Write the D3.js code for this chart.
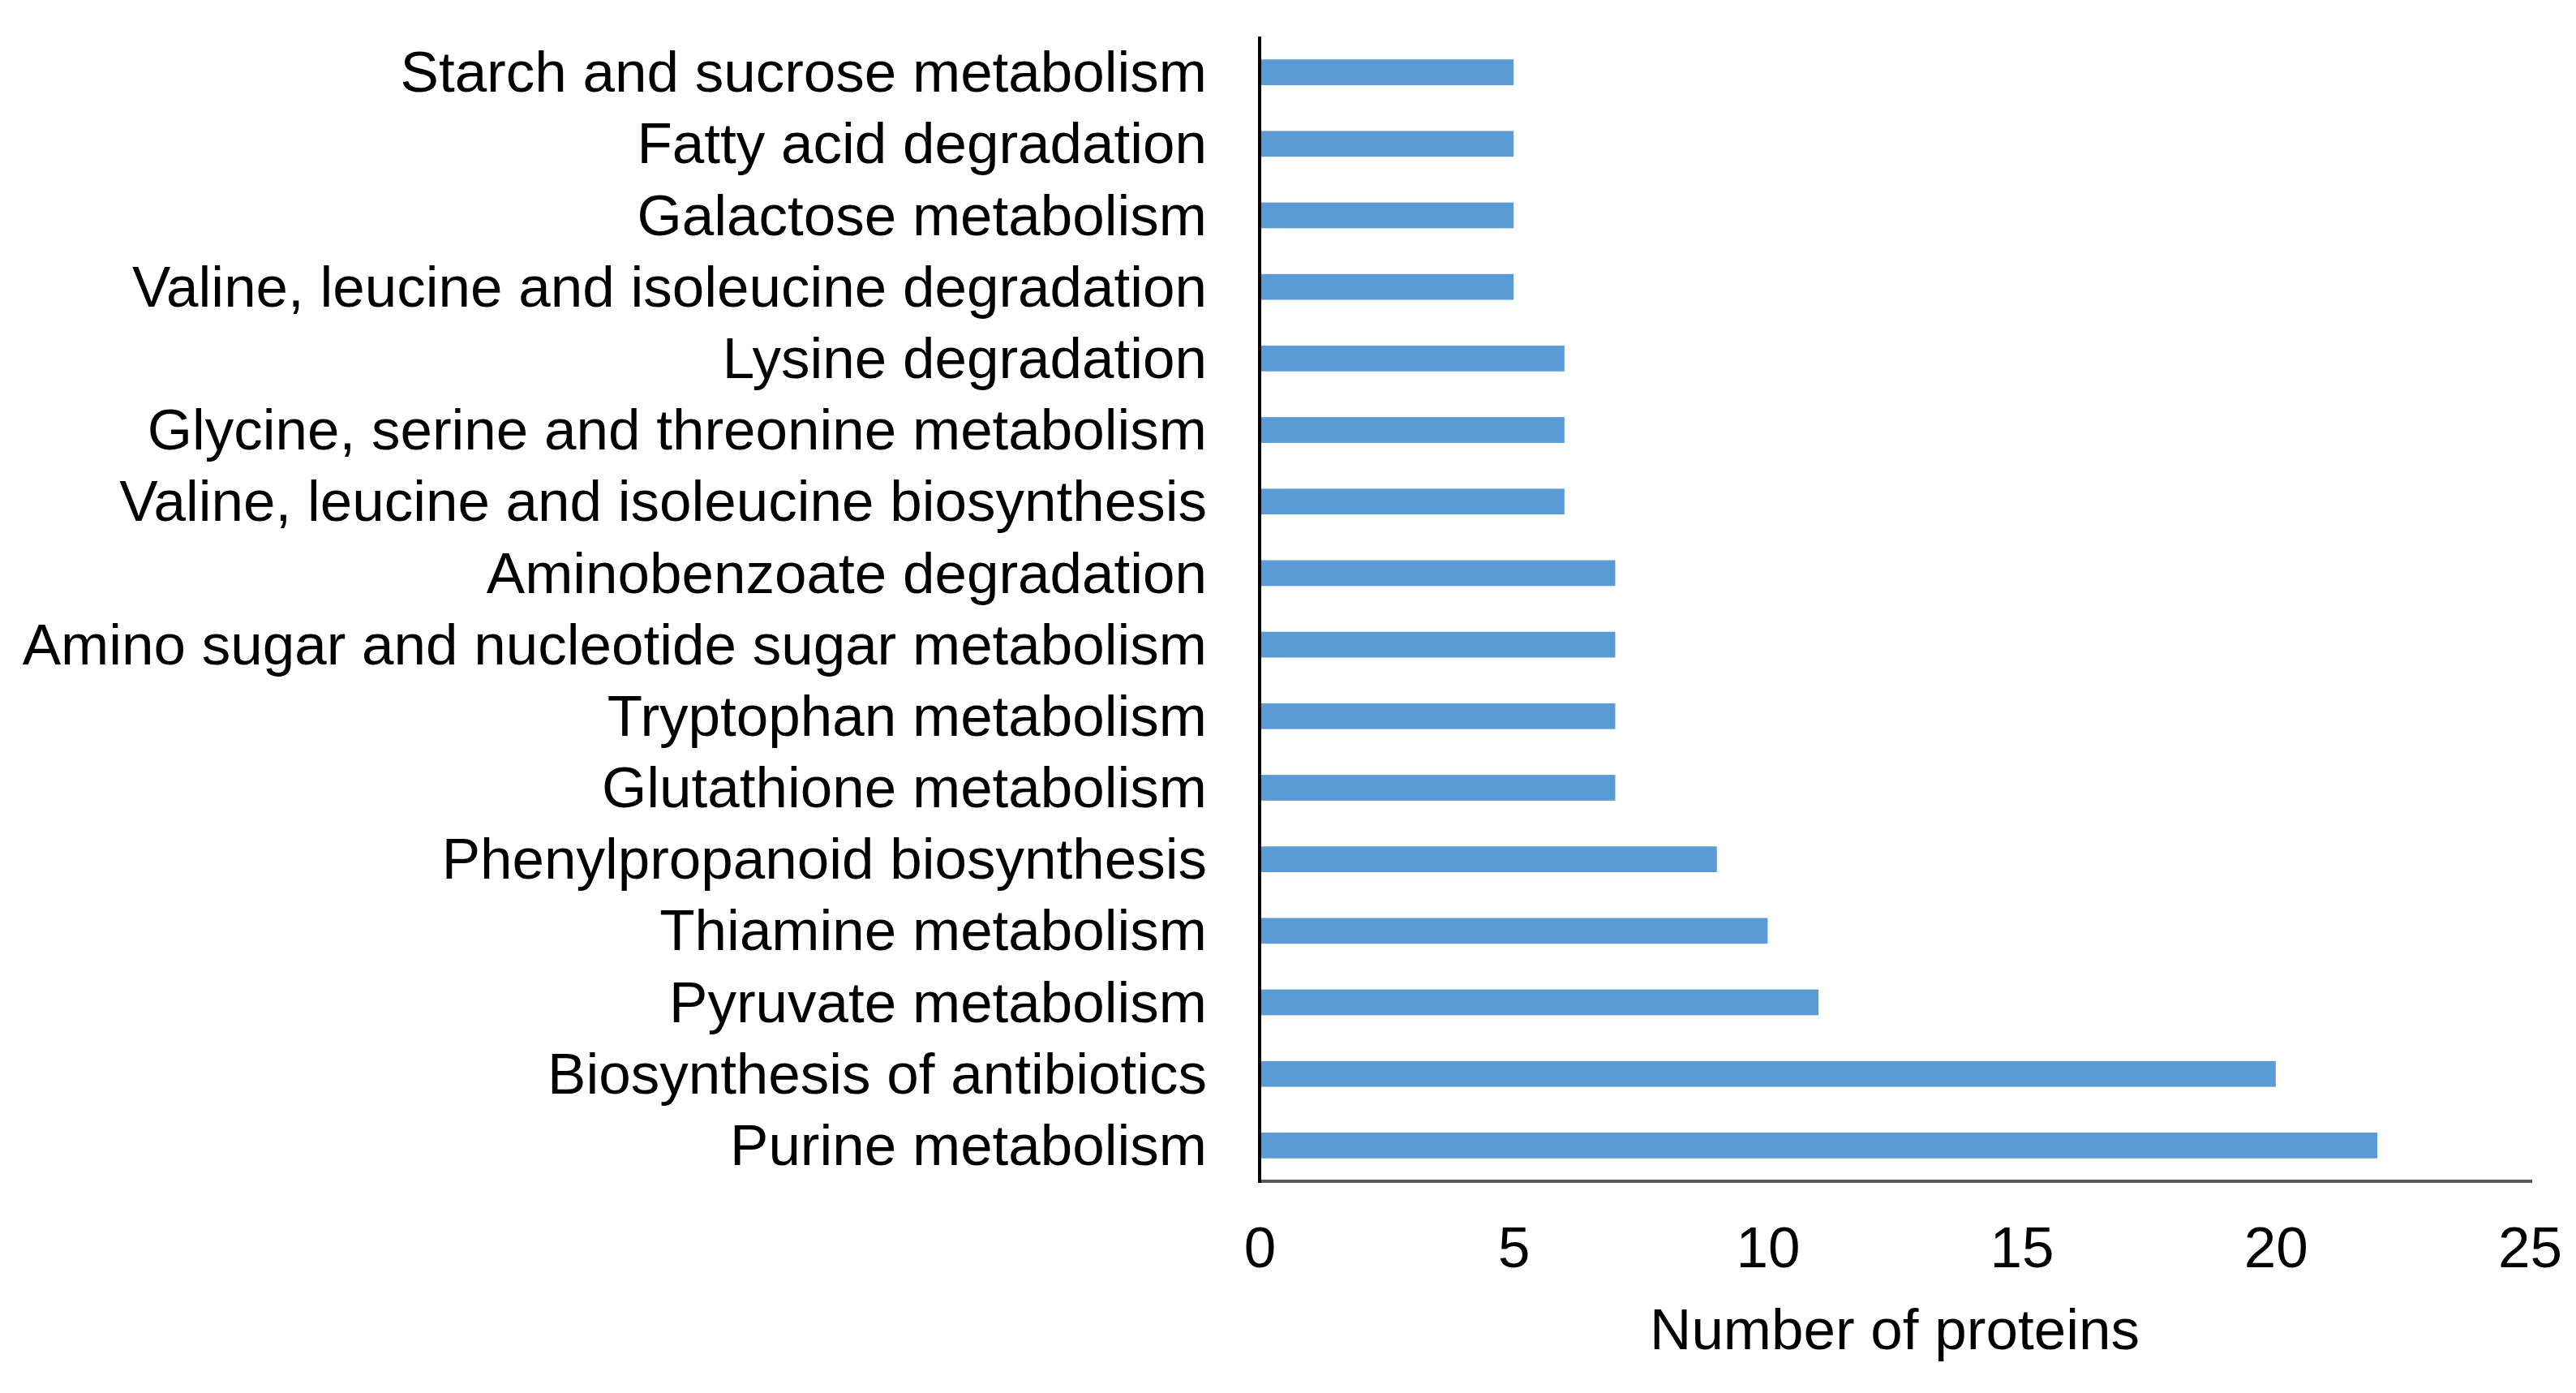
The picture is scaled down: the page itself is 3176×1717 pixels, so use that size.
<!DOCTYPE html>
<html>
<head>
<meta charset="utf-8">
<script src="https://cdn.jsdelivr.net/npm/d3@7"></script>
<style>
  html, body { margin: 0; padding: 0; background: #fff; }
  text { font-family: "Liberation Sans", Arial, sans-serif; fill: #000; }
</style>
</head>
<body>
<svg id="chart" width="3176" height="1717"></svg>
<script>
// pathways, top to bottom
const pathways = [
  'Starch and sucrose metabolism',
  'Fatty acid degradation',
  'Galactose metabolism',
  'Valine, leucine and isoleucine degradation',
  'Lysine degradation',
  'Glycine, serine and threonine metabolism',
  'Valine, leucine and isoleucine biosynthesis',
  'Aminobenzoate degradation',
  'Amino sugar and nucleotide sugar metabolism',
  'Tryptophan metabolism',
  'Glutathione metabolism',
  'Phenylpropanoid biosynthesis',
  'Thiamine metabolism',
  'Pyruvate metabolism',
  'Biosynthesis of antibiotics',
  'Purine metabolism'
]
const proteinCounts = [5, 5, 5, 5, 6, 6, 6, 7, 7, 7, 7, 9, 10, 11, 20, 22]
const xTicks = [0, 5, 10, 15, 20, 25]
const xTitle = 'Number of proteins'

const svg = d3.select('#chart')
const plotLeft = 1553
const plotRight = 3119
const plotTop = 45
const plotBottom = 1456

const x = d3.scaleLinear().domain([0, 25]).range([plotLeft, plotRight])
const y = d3.scaleBand().domain(pathways).range([plotTop, plotBottom]).paddingInner(0.64).paddingOuter(0.32)

// bars
svg.append('g')
  .selectAll('rect')
  .data(pathways)
  .enter()
  .append('rect')
  .attr('x', x(0))
  .attr('y', d => y(d))
  .attr('width', (d, i) => x(proteinCounts[i]) - x(0))
  .attr('height', y.bandwidth())
  .style('fill', '#5b9bd5')

// category labels
svg.append('g')
  .selectAll('text')
  .data(pathways)
  .enter()
  .append('text')
  .attr('x', plotLeft - 65)
  .attr('y', d => y(d) + y.bandwidth() / 2)
  .attr('dy', '0.34em')
  .attr('text-anchor', 'end')
  .style('font-size', '71px')
  .text(d => d)

// x axis (no tick marks)
const xAxis = svg.append('g')
  .attr('transform', `translate(0, ${plotBottom})`)
  .call(d3.axisBottom(x).tickValues(xTicks).tickSize(0).tickPadding(0))
xAxis.select('.domain')
  .attr('d', `M${plotLeft},0H${plotRight + 3}`)
  .attr('stroke', '#595959')
  .attr('stroke-width', 4)
xAxis.selectAll('text')
  .attr('y', 0)
  .attr('dy', 0)
  .attr('transform', 'translate(0, 106)')
  .style('font-size', '71px')
  .style('font-family', '"Liberation Sans", Arial, sans-serif')
  .attr('fill', '#000')

// y axis line
svg.append('line')
  .attr('x1', plotLeft)
  .attr('x2', plotLeft)
  .attr('y1', plotTop)
  .attr('y2', plotBottom + 2)
  .attr('stroke', '#000')
  .attr('stroke-width', 4)

// axis title
svg.append('text')
  .attr('x', (plotLeft + plotRight) / 2)
  .attr('y', 1663)
  .attr('text-anchor', 'middle')
  .style('font-size', '71px')
  .text(xTitle)
</script>
</body>
</html>
